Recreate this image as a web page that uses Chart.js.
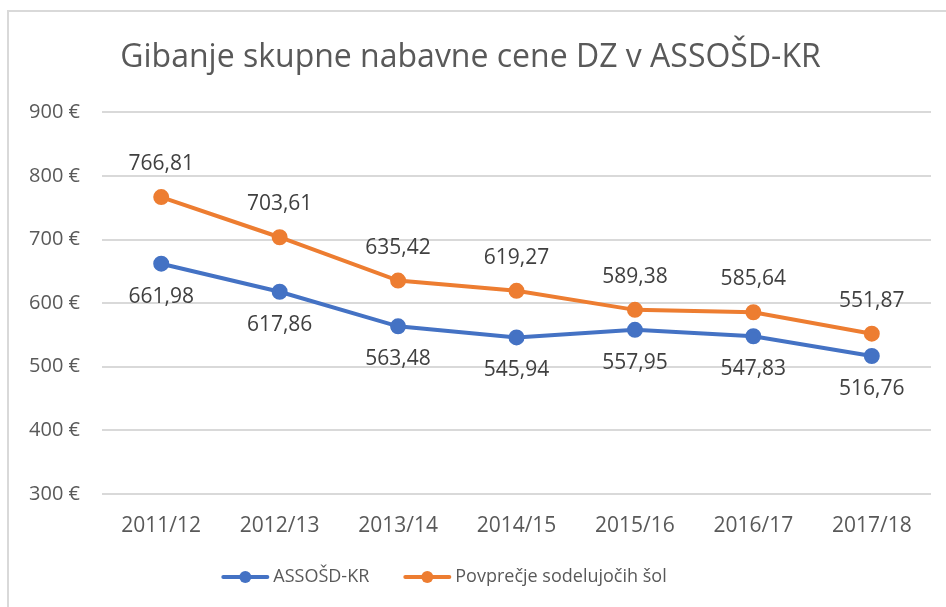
<!DOCTYPE html>
<html>
<head>
<meta charset="utf-8">
<script src="https://cdn.jsdelivr.net/npm/chart.js@4/dist/chart.umd.min.js"></script>
<style>
  html, body { margin: 0; padding: 0; background: #fff; }
  #wrap { position: relative; width: 946px; height: 607px; }
  #frame { position: absolute; left: 7px; top: 10px; width: 960px; height: 620px;
           border-left: 2px solid #d9d9d9; border-top: 2px solid #d9d9d9; pointer-events: none; }
</style>
</head>
<body>
<div id="wrap">
  <canvas id="chart" width="946" height="607"></canvas>
  <div id="frame"></div>
</div>
<script>
const TITLE = "Gibanje skupne nabavne cene DZ v ASSOŠD-KR";
const YEARS = ["2011/12", "2012/13", "2013/14", "2014/15", "2015/16", "2016/17", "2017/18"];
const ASSOSD_KR = [661.98, 617.86, 563.48, 545.94, 557.95, 547.83, 516.76];
const POVPRECJE = [766.81, 703.61, 635.42, 619.27, 589.38, 585.64, 551.87];
const SERIES_NAMES = ["ASSOŠD-KR", "Povprečje sodelujočih šol"];
const BLUE = "#4472C4";
const ORANGE = "#ED7D31";
const FONT = "'Open Sans', sans-serif";

const fmt = v => v.toFixed(2).replace(".", ",");

const dataLabels = {
  id: "dataLabels",
  afterDatasetsDraw(chart) {
    const ctx = chart.ctx;
    ctx.save();
    ctx.font = "21px " + FONT;
    ctx.fillStyle = "#404040";
    ctx.textAlign = "center";
    ctx.textBaseline = "middle";
    chart.data.datasets.forEach((ds, i) => {
      const meta = chart.getDatasetMeta(i);
      meta.data.forEach((pt, j) => {
        const dy = ds.labelPos === "above" ? -33 : 33;
        ctx.fillText(fmt(ds.data[j]), pt.x, pt.y + dy);
      });
    });
    ctx.restore();
  }
};

// legend drawn by hand so the spacing matches the office look
const lineLegend = {
  id: "lineLegend",
  afterDraw(chart) {
    const ctx = chart.ctx;
    const y = 577, markW = 48, gapText = 4, gapItem = 34;
    ctx.save();
    ctx.font = "18px " + FONT;
    ctx.textBaseline = "middle";
    const items = chart.data.datasets.map(ds => ({ ds, w: ctx.measureText(ds.label).width }));
    const total = items.reduce((s, it) => s + markW + gapText + it.w, 0) + gapItem * (items.length - 1);
    let x = 444 - total / 2;
    items.forEach(it => {
      ctx.strokeStyle = it.ds.borderColor;
      ctx.lineWidth = 4;
      ctx.lineCap = "round";
      ctx.beginPath();
      ctx.moveTo(x + 2, y);
      ctx.lineTo(x + markW - 2, y);
      ctx.stroke();
      ctx.fillStyle = it.ds.borderColor;
      ctx.beginPath();
      ctx.arc(x + markW / 2, y, 6, 0, Math.PI * 2);
      ctx.fill();
      x += markW + gapText;
      ctx.fillStyle = "#595959";
      ctx.fillText(it.ds.label, x, y);
      x += it.w + gapItem;
    });
    ctx.restore();
  }
};

new Chart(document.getElementById("chart"), {
  type: "line",
  data: {
    labels: YEARS,
    datasets: [
      {
        label: SERIES_NAMES[0],
        data: ASSOSD_KR,
        borderColor: BLUE,
        backgroundColor: BLUE,
        borderWidth: 4,
        pointRadius: 6,
        pointHoverRadius: 6,
        labelPos: "below"
      },
      {
        label: SERIES_NAMES[1],
        data: POVPRECJE,
        borderColor: ORANGE,
        backgroundColor: ORANGE,
        borderWidth: 4,
        pointRadius: 6,
        pointHoverRadius: 6,
        labelPos: "above"
      }
    ]
  },
  options: {
    responsive: false,
    animation: false,
    events: [],
    layout: { padding: { left: 10, right: 15, top: 0, bottom: 48 } },
    plugins: {
      tooltip: { enabled: false },
      legend: { display: false },
      title: {
        display: true,
        text: TITLE,
        color: "#595959",
        font: { family: FONT, size: 32, weight: "normal" },
        padding: { top: 39, bottom: 35 }
      }
    },
    scales: {
      x: {
        offset: true,
        grid: { display: false, drawTicks: false },
        border: { display: false },
        ticks: { color: "#595959", font: { family: FONT, size: 21 }, padding: 20 }
      },
      y: {
        min: 300,
        max: 900,
        afterFit(axis) { axis.width = 92; },
        grid: { color: "#d9d9d9", lineWidth: 2, drawTicks: false },
        border: { display: false },
        ticks: {
          stepSize: 100,
          color: "#595959",
          font: { family: FONT, size: 20 },
          padding: 22,
          callback: v => v + " €"
        }
      }
    }
  },
  plugins: [dataLabels, lineLegend]
});
</script>
</body>
</html>
